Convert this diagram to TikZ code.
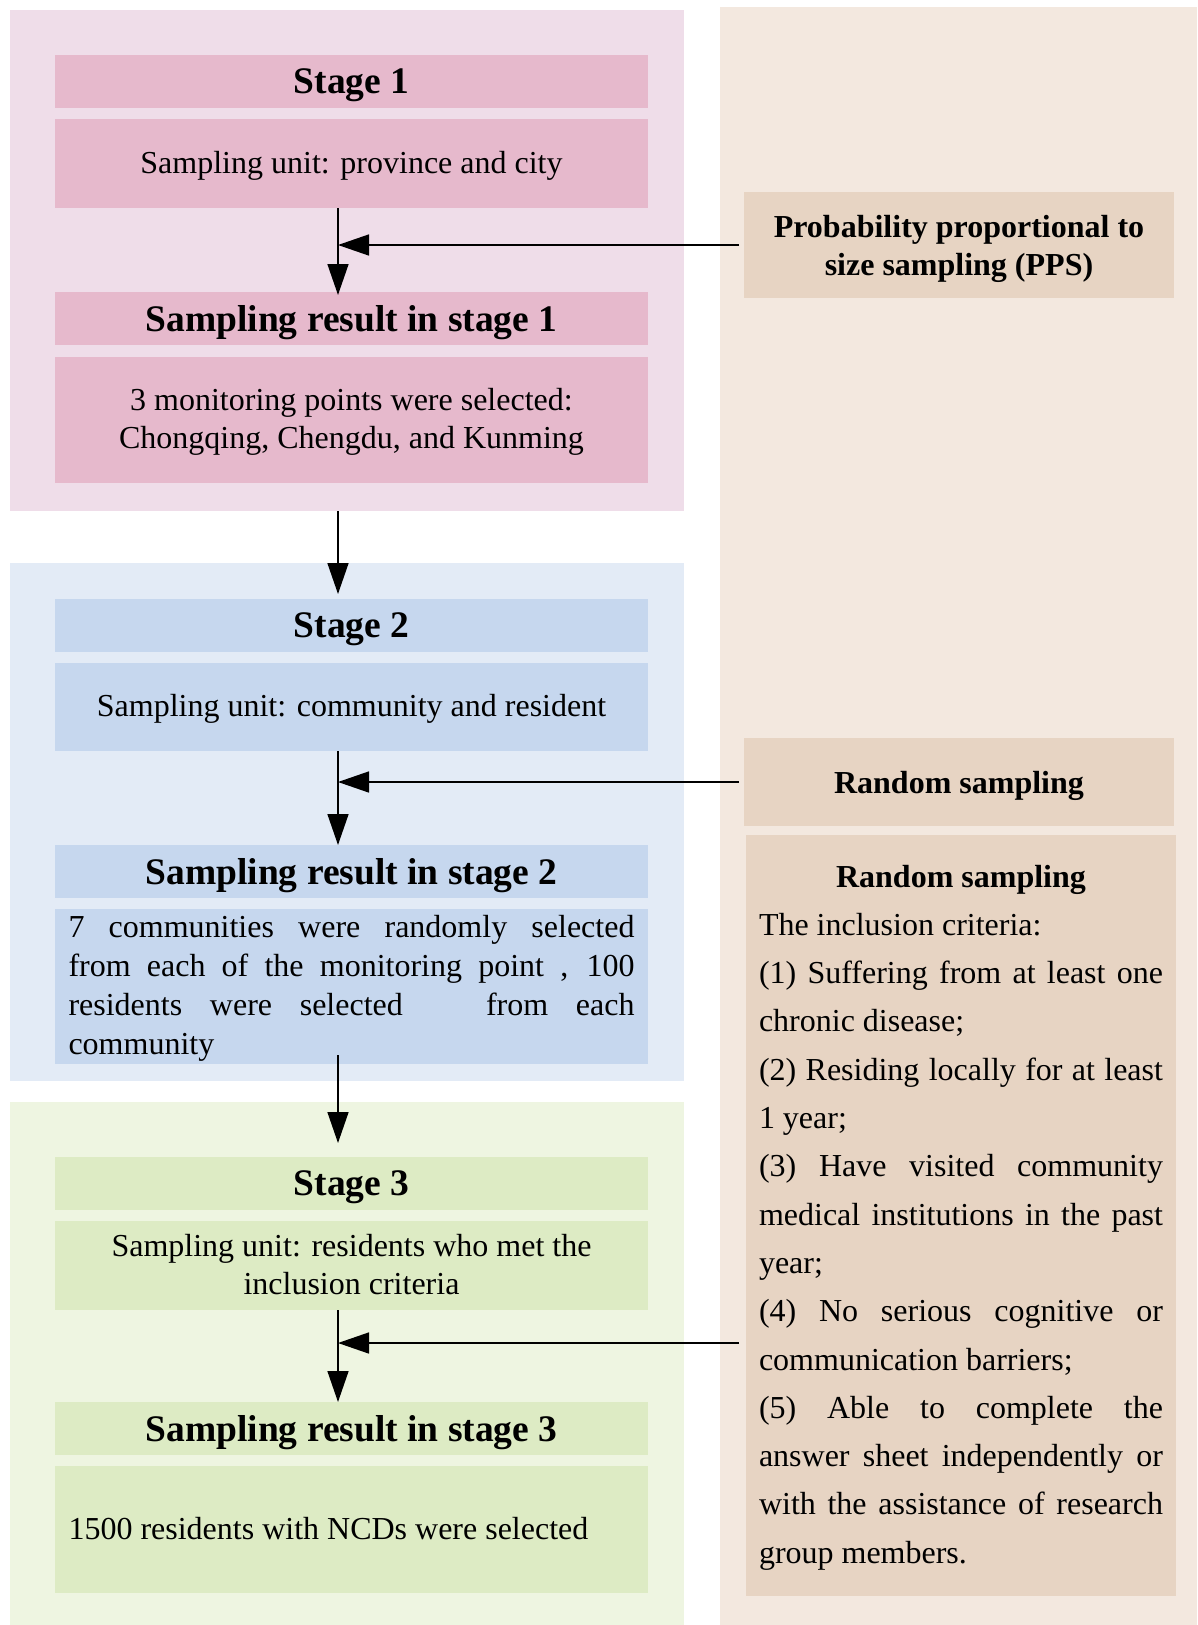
\documentclass[tikz,border=0pt]{standalone}
\usepackage{fontspec}
\IfFontExistsTF{LiberationSerif-Regular.ttf}
  {\setmainfont{LiberationSerif}[Extension=.ttf, UprightFont=*-Regular, BoldFont=*-Bold, ItalicFont=*-Italic, BoldItalicFont=*-BoldItalic]}
  {\setmainfont{Latin Modern Roman}}
\usetikzlibrary{arrows.meta,calc}
\definecolor{pinkpanel}{HTML}{EFDDE9}
\definecolor{pinkbox}{HTML}{E6B9CC}
\definecolor{bluepanel}{HTML}{E3EBF6}
\definecolor{bluebox}{HTML}{C6D7EE}
\definecolor{greenpanel}{HTML}{EEF5E1}
\definecolor{greenbox}{HTML}{DDEBC4}
\definecolor{beigepanel}{HTML}{F3E8DF}
\definecolor{beigebox}{HTML}{E7D4C3}
\newcommand\mybox[7]{\node[#6, minimum width={#4-#2}, minimum height={#5-#3}] (#1) at ({(#2+#4)/2},{(#3+#5)/2}) {#7};}
\newcommand\jline[2]{\makebox[#1][s]{#2}}
\tikzset{
  bx/.style={draw=none, inner sep=0pt, outer sep=0pt, align=center},
  ttl/.style={bx, text depth=0pt, font=\fontsize{37.5}{40}\selectfont\bfseries},
  bodytxt/.style={bx, text depth=3pt, font=\fontsize{32}{38}\selectfont},
  sidettl/.style={bx, text depth=0pt, font=\fontsize{32}{38}\selectfont\bfseries},
  arr/.style={line width=1.5pt, -{Triangle[length=31pt,width=21pt]}},
}
\begin{document}
\begin{tikzpicture}[x=1pt,y=-1pt]
\useasboundingbox (0,0) rectangle (1197,1625);
% panels
\mybox{p1}{10}{10}{684}{511}{bx,fill=pinkpanel}{}
\mybox{p2}{10}{563}{684}{1081}{bx,fill=bluepanel}{}
\mybox{p3}{10}{1102}{684}{1625}{bx,fill=greenpanel}{}
\mybox{p4}{720}{7}{1197}{1625}{bx,fill=beigepanel}{}
% stage 1
\mybox{s1}{55}{55}{648}{108}{ttl,fill=pinkbox}{Stage 1}
\mybox{u1}{55}{119}{648}{208}{bodytxt,fill=pinkbox}{Sampling unit: province and city}
\mybox{r1h}{55}{292}{648}{345}{ttl,fill=pinkbox}{Sampling result in stage 1}
\mybox{r1b}{55}{357}{648}{483}{bodytxt,fill=pinkbox}{3 monitoring points were selected:\\Chongqing, Chengdu, and Kunming}
% stage 2
\mybox{s2}{55}{599}{648}{652}{ttl,fill=bluebox}{Stage 2}
\mybox{u2}{55}{663}{648}{751}{bodytxt,fill=bluebox}{Sampling unit: community and resident}
\mybox{r2h}{55}{845}{648}{898}{ttl,fill=bluebox}{Sampling result in stage 2}
\mybox{r2b}{55}{909}{648}{1064}{bodytxt,fill=bluebox,align=left,font=\fontsize{32}{39}\selectfont}{%
\jline{566pt}{7 communities were randomly selected}\\
\jline{566pt}{from each of the monitoring point , 100}\\
\jline{566pt}{residents were selected \ \ from each}\\
\makebox[566pt][l]{community}}
% stage 3
\mybox{s3}{55}{1157}{648}{1210}{ttl,fill=greenbox}{Stage 3}
\mybox{u3}{55}{1221}{648}{1310}{bodytxt,fill=greenbox}{Sampling unit: residents who met the\\inclusion criteria}
\mybox{r3h}{55}{1402}{648}{1455}{ttl,fill=greenbox}{Sampling result in stage 3}
\mybox{r3b}{55}{1466}{648}{1593}{bodytxt,fill=greenbox}{\makebox[566pt][l]{1500 residents with NCDs were selected}}
% right side
\mybox{pps}{744}{192}{1174}{298}{sidettl,fill=beigebox}{Probability proportional to\\size sampling (PPS)}
\mybox{rs}{744}{738}{1174}{826}{sidettl,fill=beigebox}{Random sampling}
\mybox{crit}{746}{835}{1176}{1596}{bx,fill=beigebox,align=left,text depth=3pt,font=\fontsize{32}{48.3}\selectfont}{%
\makebox[404pt][c]{\bfseries Random sampling}\\
The inclusion criteria:\\
\jline{404pt}{(1) Suffering from at least one}\\
chronic disease;\\
\jline{404pt}{(2) Residing locally for at least}\\
1 year;\\
\jline{404pt}{(3) Have visited community}\\
\jline{404pt}{medical institutions in the past}\\
year;\\
\jline{404pt}{(4) No serious cognitive or}\\
communication barriers;\\
\jline{404pt}{(5) Able to complete the}\\
\jline{404pt}{answer sheet independently or}\\
\jline{404pt}{with the assistance of research}\\
group members.}
% connectors
\coordinate (ax) at (338,0);
\coordinate (h3) at (739,1343);
\draw[arr] (u1.south -| ax) -- ([yshift=-3pt]r1h.north -| ax);
\draw[arr] (p1.south -| ax) -- ([yshift=5pt]s2.north -| ax);
\draw[arr] (u2.south -| ax) -- (r2h.north -| ax);
\draw[arr] ([yshift=9pt]r2b.south -| ax) -- ([yshift=14pt]s3.north -| ax);
\draw[arr] (u3.south -| ax) -- (r3h.north -| ax);
\draw[arr] ([xshift=-5pt]pps.west) -- (ax |- pps.west);
\draw[arr] ([xshift=-5pt]rs.west) -- (ax |- rs.west);
\draw[arr] (h3) -- (ax |- h3);
\end{tikzpicture}
\end{document}
